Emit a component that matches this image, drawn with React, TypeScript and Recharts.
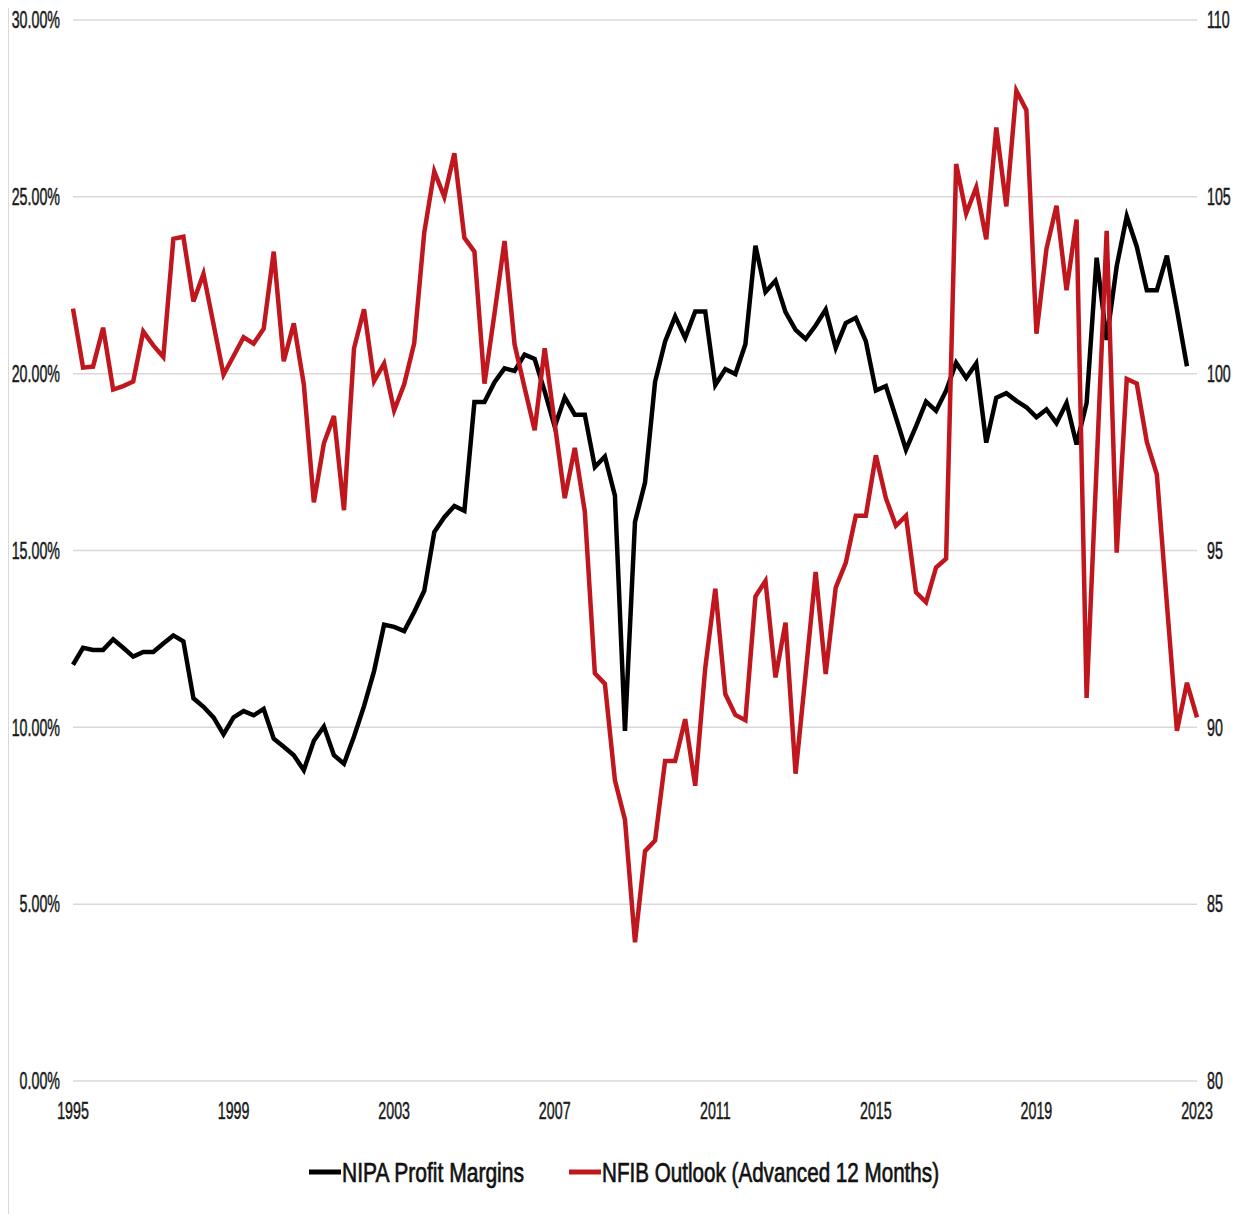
import React from 'react';
import { LineChart, Line, XAxis, YAxis, CartesianGrid, Legend } from 'recharts';

// Quarterly categories 1995Q1 .. 2023Q1
const startYear = 1995;
const endYear = 2023;
const quarters: string[] = [];
for (let y = startYear; y <= endYear; y++) {
  for (let q = 1; q <= 4; q++) {
    if (y === endYear && q > 1) break;
    quarters.push(`${y}Q${q}`);
  }
}

// NIPA Profit Margins (%), 1995Q1 .. 2022Q4
const nipaMargins: number[] = [
  11.77, 12.25, 12.19, 12.19, 12.49, 12.25, 12.0, 12.13, 12.13, 12.37,
  12.6, 12.43, 10.82, 10.58, 10.28, 9.8, 10.28, 10.46, 10.34, 10.52,
  9.68, 9.45, 9.21, 8.79, 9.62, 10.02, 9.21, 8.97, 9.74, 10.6,
  11.59, 12.9, 12.84, 12.72, 13.26, 13.86, 15.52, 15.94, 16.26, 16.12,
  19.2, 19.2, 19.76, 20.15, 20.08, 20.54, 20.42, 19.5, 18.5, 19.33,
  18.84, 18.84, 17.36, 17.66, 16.55, 9.9, 15.81, 16.92, 19.77, 20.91,
  21.62, 21.01, 21.76, 21.76, 19.68, 20.13, 19.99, 20.83, 23.62, 22.31,
  22.63, 21.74, 21.24, 20.98, 21.36, 21.81, 20.73, 21.43, 21.58, 20.92,
  19.52, 19.65, 18.76, 17.85, 18.51, 19.21, 18.95, 19.52, 20.31, 19.88,
  20.29, 18.05, 19.32, 19.45, 19.23, 19.05, 18.77, 18.99, 18.6, 19.17,
  18.0, 19.17, 23.28, 20.95, 23.04, 24.45, 23.59, 22.36, 22.36, 23.34,
  21.81, 20.21,
];

// NFIB Outlook (Advanced 12 Months), 1995Q1 .. 2023Q1
const nfibOutlook: number[] = [
  101.84, 100.17, 100.2, 101.3, 99.55, 99.65, 99.78, 101.19, 100.8, 100.47,
  103.81, 103.87, 102.04, 102.82, 101.4, 99.97, 100.5, 101.03, 100.85, 101.27,
  103.45, 100.35, 101.42, 99.7, 96.36, 98.03, 98.8, 96.14, 100.71, 101.82,
  99.79, 100.29, 98.96, 99.7, 100.86, 103.99, 105.72, 105.0, 106.23, 103.84,
  103.45, 99.72, 101.7, 103.75, 100.83, 99.6, 98.4, 100.72, 98.6, 96.48,
  97.9, 96.1, 91.53, 91.23, 88.5, 87.39, 83.92, 86.5, 86.8, 89.05,
  89.05, 90.23, 88.35, 91.68, 93.92, 90.94, 90.35, 90.2, 93.7, 94.14,
  91.41, 92.96, 88.69, 91.5, 94.39, 91.51, 93.95, 94.65, 95.98, 95.98,
  97.69, 96.48, 95.7, 95.98, 93.82, 93.54, 94.52, 94.77, 105.93, 104.53,
  105.27, 103.8, 106.96, 104.73, 108.0, 107.45, 101.13, 103.53, 104.75, 102.36,
  104.36, 90.83, 97.4, 104.04, 94.94, 99.85, 99.72, 98.07, 97.15, 93.5,
  89.9, 91.26, 90.28,
];

const xTicks: string[] = ['1995Q1', '1999Q1', '2003Q1', '2007Q1', '2011Q1', '2015Q1', '2019Q1', '2023Q1'];
const leftTicks: number[] = [0, 5, 10, 15, 20, 25, 30];
const rightTicks: number[] = [80, 85, 90, 95, 100, 105, 110];

const seriesNames = { nipa: 'NIPA Profit Margins', nfib: 'NFIB Outlook (Advanced 12 Months)' };
const colors = { nipa: '#000000', nfib: '#C0161E' };

const data = quarters.map((q, i) => ({
  q,
  nipa: i < nipaMargins.length ? nipaMargins[i] : undefined,
  nfib: i < nfibOutlook.length ? nfibOutlook[i] : undefined,
}));

const FONT = "'Liberation Sans', Arial, sans-serif";
const TICK_SIZE = 23;
const SQUEEZE = 0.62;

const makeTick = (anchor: 'start' | 'end' | 'middle', fmt: (v: any) => string, dy: string | number) =>
  (props: any) => {
    const { x, y, payload } = props;
    return (
      <g transform={`translate(${x},${y})`}>
        <text
          transform={`scale(${SQUEEZE},1)`}
          textAnchor={anchor}
          dy={dy}
          fontFamily={FONT}
          fontSize={TICK_SIZE}
          fill="#1a1a1a"
          stroke="#1a1a1a"
          strokeWidth={0.5}
        >
          {fmt(payload.value)}
        </text>
      </g>
    );
  };

const LeftTick = makeTick('end', (v: number) => `${Number(v).toFixed(2)}%`, '0.36em');
const RightTick = makeTick('start', (v: number) => `${v}`, '0.36em');
const BottomTick = makeTick('middle', (v: string) => String(v).slice(0, 4), 20);

const legendItems = [
  { key: 'nipa', label: seriesNames.nipa, color: colors.nipa, textWidth: 182 },
  { key: 'nfib', label: seriesNames.nfib, color: colors.nfib, textWidth: 337 },
];

const LegendContent = () => {
  const sample = 32;
  const gapAfterSample = 1;
  const gapBetween = 45;
  const total = legendItems.reduce((s, it) => s + sample + gapAfterSample + it.textWidth, 0) + gapBetween * (legendItems.length - 1);
  let cursor = (1230 - total) / 2;
  const cy = 35;
  return (
    <svg width={1230} height={67} style={{ display: 'block' }}>
      {legendItems.map((it) => {
        const x0 = cursor;
        cursor += sample + gapAfterSample + it.textWidth + gapBetween;
        return (
          <g key={it.key}>
            <line x1={x0} x2={x0 + sample} y1={cy} y2={cy} stroke={it.color} strokeWidth={5} />
            <text
              x={x0 + sample + gapAfterSample}
              y={cy}
              dy="0.36em"
              fontFamily={FONT}
              fontSize={28}
              textLength={it.textWidth}
              lengthAdjust="spacingAndGlyphs"
              fill="#111"
              stroke="#111"
              strokeWidth={0.7}
            >
              {it.label}
            </text>
          </g>
        );
      })}
    </svg>
  );
};

export default function App() {
  return (
    <div
      style={{
        width: 1230,
        height: 1206,
        borderLeft: '1px solid #d9d9d9',
        borderRight: '1px solid #d9d9d9',
        background: '#fff',
      }}
    >
      <LineChart width={1230} height={1206} data={data} margin={{ top: 12, right: 0, bottom: 10, left: 0 }}>
        <CartesianGrid horizontal vertical={false} stroke="#d9d9d9" strokeWidth={1.5} yAxisId="left" />
        <XAxis
          dataKey="q"
          type="category"
          ticks={xTicks}
          interval={0}
          axisLine={false}
          tickLine={false}
          tick={BottomTick}
          tickMargin={12}
          height={56}
        />
        <YAxis
          yAxisId="left"
          orientation="left"
          domain={[0, 30]}
          ticks={leftTicks}
          axisLine={false}
          tickLine={false}
          tick={LeftTick}
          tickMargin={7}
          width={64}
        />
        <YAxis
          yAxisId="right"
          orientation="right"
          domain={[80, 110]}
          ticks={rightTicks}
          axisLine={false}
          tickLine={false}
          tick={RightTick}
          tickMargin={4}
          width={42}
        />
        <Legend verticalAlign="bottom" content={<LegendContent />} />
        <Line
          yAxisId="left"
          dataKey="nipa"
          name={seriesNames.nipa}
          stroke={colors.nipa}
          strokeWidth={4.5}
          dot={false}
          isAnimationActive={false}
          strokeLinejoin="miter"
        />
        <Line
          yAxisId="right"
          dataKey="nfib"
          name={seriesNames.nfib}
          stroke={colors.nfib}
          strokeWidth={4.5}
          dot={false}
          isAnimationActive={false}
          strokeLinejoin="miter"
        />
      </LineChart>
    </div>
  );
}
